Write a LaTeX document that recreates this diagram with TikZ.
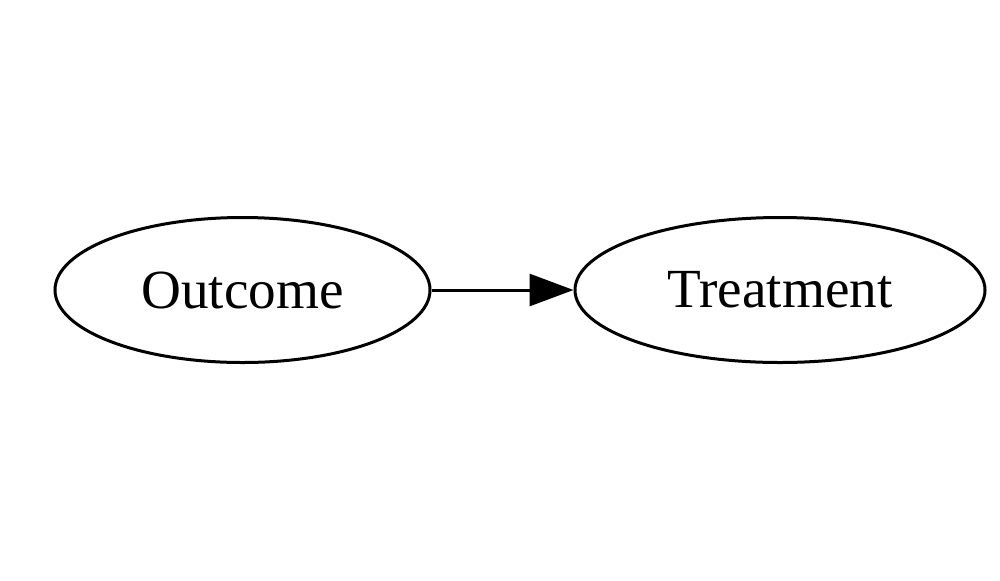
\documentclass[tikz,border=0pt]{standalone}
\usepackage{fontspec}
\setmainfont{Liberation Serif}
\usetikzlibrary{shapes.geometric,arrows.meta}
\begin{document}
\begin{tikzpicture}[x=0.5pt,y=-0.5pt,
  vnode/.style={draw,ellipse,line width=1.5pt,inner sep=0pt,font=\fontsize{27.6}{30}\selectfont},
  edge/.style={line width=1.5pt,-{Triangle[length=22pt,width=16pt]}}]
\useasboundingbox (0,0) rectangle (1000,580);
\node[vnode,minimum width=187.5pt,minimum height=72.5pt] (o) at (242.5,290) {Outcome};
\node[vnode,minimum width=205pt,minimum height=72.5pt] (t) at (780,290) {Treatment};
\draw[edge] (o) -- (t);
\end{tikzpicture}
\end{document}
